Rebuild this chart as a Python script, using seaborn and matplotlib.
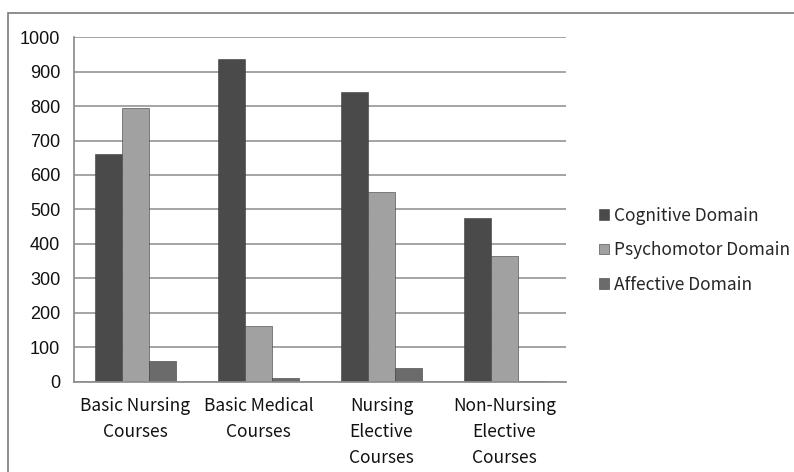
import matplotlib

matplotlib.use("Agg")

import matplotlib.pyplot as plt
import pandas as pd
import seaborn as sns
from matplotlib.patches import Rectangle

courses = [
    "Basic Nursing\nCourses",
    "Basic Medical\nCourses",
    "Nursing\nElective\nCourses",
    "Non-Nursing\nElective\nCourses",
]
domains = ["Cognitive Domain", "Psychomotor Domain", "Affective Domain"]
cognitive = [660, 937, 840, 476]
psychomotor = [795, 162, 552, 366]
affective = [62, 12, 41, 3]
colors = ["#4a4a4a", "#a1a1a1", "#6b6b6b"]

frame = pd.DataFrame({
    "course": courses * 3,
    "domain": [d for d in domains for _ in courses],
    "value": cognitive + psychomotor + affective,
})

sns.set_theme(style="white")
cjk = ["Noto Sans CJK SC", "DejaVu Sans"]

fig = plt.figure(figsize=(7.94, 4.72), dpi=100)
ax = fig.add_axes([0.0932, 0.1907, 0.6196, 0.7309])

sns.barplot(
    data=frame, x="course", y="value", hue="domain",
    hue_order=domains, palette=colors, width=0.66,
    saturation=1, edgecolor="#3a3a3a", linewidth=0.4, ax=ax,
)

ax.set_ylim(0, 1000)
ax.set_yticks(range(0, 1001, 100))
ax.set_xlim(-0.5, 3.5)
ax.yaxis.grid(True, color="#8c8c8c", linewidth=1.1)
ax.set_axisbelow(True)
ax.set_xlabel("")
ax.set_ylabel("")
for side in ["top", "right"]:
    ax.spines[side].set_visible(False)
ax.spines["left"].set_color("#8c8c8c")
ax.spines["bottom"].set_color("#8c8c8c")
ax.tick_params(axis="both", length=0, pad=10)
for lbl in ax.get_yticklabels():
    lbl.set_fontfamily(["Liberation Sans", "DejaVu Sans"])
    lbl.set_fontsize(13)
    lbl.set_color("#111111")
for lbl in ax.get_xticklabels():
    lbl.set_fontfamily(cjk)
    lbl.set_fontsize(12.5)
    lbl.set_color("#111111")
    lbl.set_linespacing(1.56)
ax.tick_params(axis="x", pad=11)

ax.get_legend().remove()
handles, labels = ax.get_legend_handles_labels()
fig.legend(
    handles[:3], labels[:3], loc="center left",
    bbox_to_anchor=(0.735, 0.47), frameon=False,
    handlelength=0.55, handleheight=0.55, handletextpad=0.3,
    labelspacing=0.95, prop={"family": cjk, "size": 12.5},
)

fig.patches.append(Rectangle(
    (8 / 794, -0.1), 1.2, 1 - 13 / 472 + 0.1,
    transform=fig.transFigure, fill=False,
    edgecolor="#7a7a7a", linewidth=1.2,
))

fig.savefig("out.png", dpi=100)
